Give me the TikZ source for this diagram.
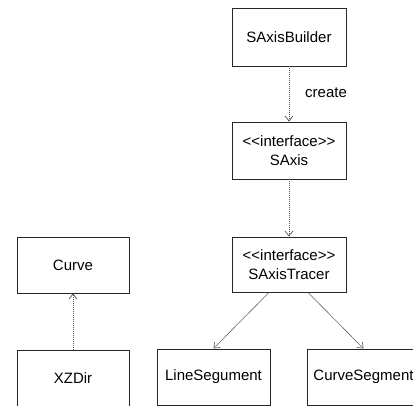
\documentclass[tikz,border=0pt]{standalone}
\usepackage{fontspec}
\setmainfont{Liberation Sans}
\usetikzlibrary{arrows.meta}
\newcommand{\stereo}[1]{<{}<#1>{}>}
\begin{document}
\begin{tikzpicture}[x=1pt,y=-1pt,
  classbox/.style={draw=black!85, line width=0.9pt, fill=white, inner sep=0pt,
    minimum width=114pt, minimum height=57pt, align=center,
    font=\fontsize{15}{19}\selectfont},
  depend/.style={draw=black!70, line width=0.7pt, dash pattern=on 1pt off 1pt,
    -{Straight Barb[length=5pt,width=8pt,line width=0.7pt]}},
  assoc/.style={draw=black!60, line width=0.6pt,
    -{Straight Barb[length=5pt,width=8pt,line width=0.7pt]}},
  lbl/.style={font=\fontsize{15}{19}\selectfont, inner sep=0pt}]
\useasboundingbox (0,0) rectangle (413,405);
\clip (0,0) rectangle (413,405);

% class boxes
\node[classbox, minimum height=58pt] (builder) at (289,37) {SAxisBuilder};
\node[classbox] (saxis) at (289,150.5) {\stereo{interface}\\SAxis};
\node[classbox, minimum height=55pt] (tracer) at (289,264.5) {\stereo{interface}\\SAxisTracer};
\node[classbox, minimum width=112pt, minimum height=56pt] (curve) at (73,265) {Curve};
\node[classbox, minimum width=112pt, minimum height=56pt] (xzdir) at (73,378) {XZDir};
\node[classbox, minimum width=113pt, minimum height=56pt] (lineseg) at (213.5,377) {LineSegument};
\node[classbox, minimum width=113pt, minimum height=56pt] (curveseg) at (363.5,377) {CurveSegment};

% connectors
\draw[depend] (builder.south) -- (saxis.north);
\node[lbl, anchor=west] (createlbl) at (305,93) {create};
\draw[depend] (saxis.south) -- (tracer.north);
\draw[depend] (xzdir.north) -- (curve.south);
\draw[assoc] ([xshift=-20pt]tracer.south) -- (lineseg.north);
\draw[assoc] ([xshift=19pt]tracer.south) -- (curveseg.north);
\end{tikzpicture}
\end{document}
